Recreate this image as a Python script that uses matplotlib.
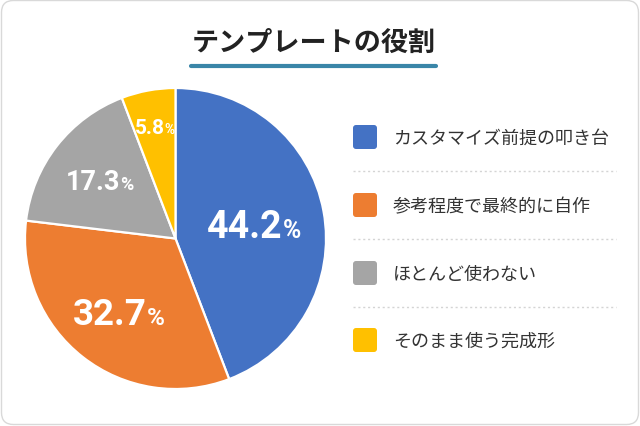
import matplotlib
matplotlib.use("Agg")
import matplotlib.pyplot as plt
from matplotlib.patches import FancyBboxPatch
import numpy as np

# ---- data ----
title = "テンプレートの役割"
categories = ["カスタマイズ前提の叩き台", "参考程度で最終的に自作", "ほとんど使わない", "そのまま使う完成形"]
values = [44.2, 32.7, 17.3, 5.8]
colors = ["#4472C4", "#ED7D31", "#A5A5A5", "#FFC000"]

# ---- style ----
W, H, DPI = 640, 427, 100
JP = ["Noto Sans CJK JP", "DejaVu Sans"]
NUM = ["Roboto", "DejaVu Sans"]
label_r = [0.53, 0.61, 0.64, 0.76]
label_size = [27, 26.5, 19.5, 15]

fig = plt.figure(figsize=(W / DPI, H / DPI), dpi=DPI)
fig.patch.set_facecolor("white")

# overlay axes in pixel coords (y downward)
bg = fig.add_axes([0, 0, 1, 1], zorder=0)
bg.set_xlim(0, W)
bg.set_ylim(H, 0)
bg.axis("off")

card = FancyBboxPatch((1.5, 1.5), W - 3, H - 3, boxstyle="round,pad=0,rounding_size=12",
                      fc="#ffffff", ec="#d9d9d9", lw=1.0)
bg.add_patch(card)

bg.text(313.5, 43, title, family=JP, fontsize=19.5, fontweight="bold", color="#222222",
        ha="center", va="center")
bg.plot([191, 436], [67, 67], color="#3A86A8", lw=3, solid_capstyle="round")

# legend
ly = [138, 206, 274, 341]
for i, (lab, c) in enumerate(zip(categories, colors)):
    bg.add_patch(FancyBboxPatch((353, ly[i] - 12), 24, 24, boxstyle="round,pad=0,rounding_size=3",
                                fc=c, ec="none"))
    bg.text(393, ly[i] + 1, lab, family=JP, fontsize=13, color="#333333", ha="left", va="center")
    if i < len(categories) - 1:
        ysep = (ly[i] + ly[i + 1]) / 2
        bg.plot([353, 616], [ysep, ysep], color="#d4d4d4", lw=1, ls=(0, (1.5, 2)))

# pie
cx, cy, R = 175.5, 239.5, 150.5
pax = fig.add_axes([(cx - R) / W, (H - cy - R) / H, 2 * R / W, 2 * R / H], zorder=1)
pax.patch.set_alpha(0)
wedges, _ = pax.pie(values, colors=colors, startangle=90, counterclock=False, radius=1,
                    wedgeprops=dict(edgecolor="white", linewidth=1.6))
pax.set_xlim(-1, 1)
pax.set_ylim(-1, 1)
pax.set_aspect("equal")
pax.axis("off")

fig.canvas.draw()
rend = fig.canvas.get_renderer()
for i, (w, v) in enumerate(zip(wedges, values)):
    ang = np.deg2rad((w.theta1 + w.theta2) / 2)
    x, y = label_r[i] * np.cos(ang), label_r[i] * np.sin(ang)
    fs = label_size[i]
    ps = fs * 0.66
    tn = pax.annotate(f"{v:.1f}", (x, y), xytext=(0, 0), textcoords="offset points",
                      fontsize=fs, fontweight="bold", family=NUM, color="white",
                      ha="left", va="baseline")
    tp = pax.annotate("%", (x, y), xytext=(0, 0), textcoords="offset points",
                      fontsize=ps, fontweight="bold", family=NUM, color="white",
                      ha="left", va="baseline")
    wn = tn.get_window_extent(rend).width * 72 / DPI
    wp = tp.get_window_extent(rend).width * 72 / DPI
    gap = 0.0
    total = wn + gap + wp
    base = -0.711 * fs / 2
    tn.set_position((-total / 2, base))
    tp.set_position((-total / 2 + wn + gap, base))

fig.savefig("out.png", dpi=DPI, facecolor="white")
